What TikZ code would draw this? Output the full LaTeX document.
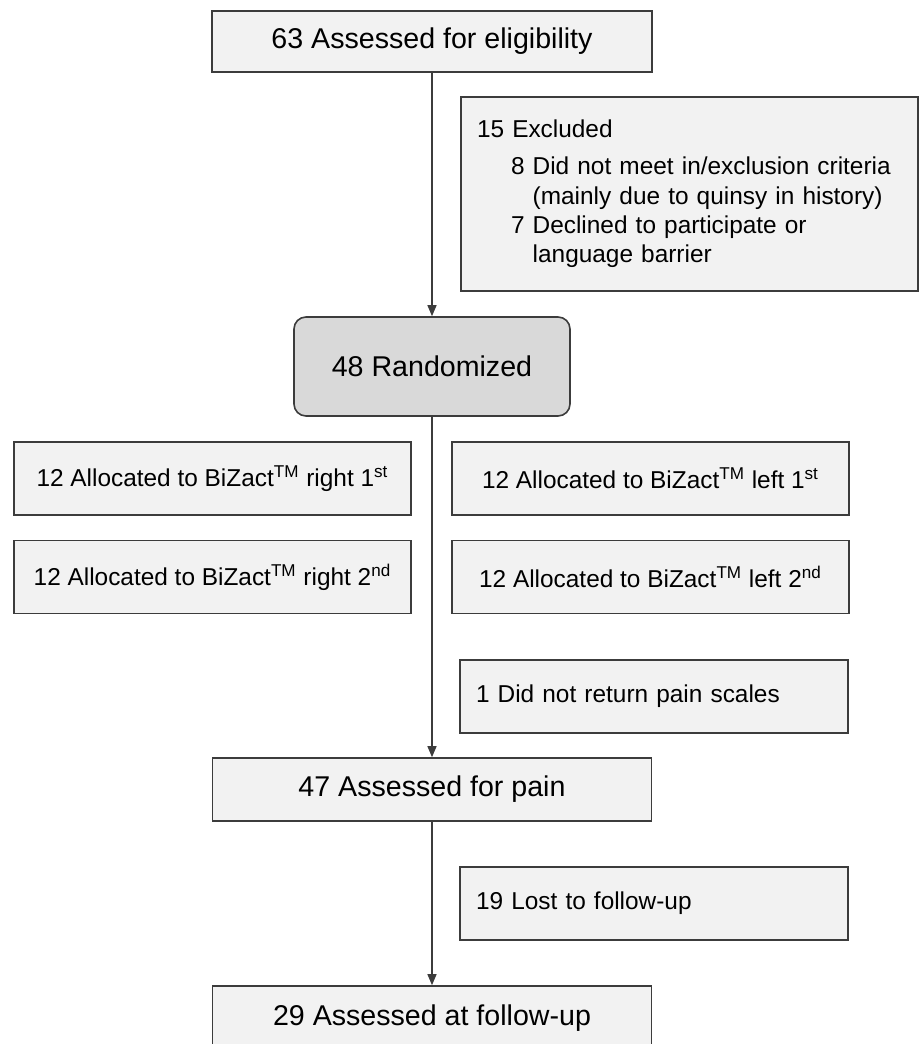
\documentclass[tikz,border=0pt]{standalone}
\usepackage{fontspec}
\setmainfont{Liberation Sans}
\usetikzlibrary{arrows.meta,positioning}
\definecolor{boxfill}{HTML}{F2F2F2}
\definecolor{randfill}{HTML}{D9D9D9}
\definecolor{edgegray}{HTML}{3C3C3C}
\tikzset{
  mainbox/.style={draw=edgegray, line width=0.8pt, fill=boxfill, inner sep=0pt, align=center, font=\fontsize{14.3}{17}\selectfont},
  allocbox/.style={draw=edgegray, line width=0.8pt, fill=boxfill, inner sep=0pt, align=center, minimum width=198.5pt, minimum height=36.5pt, font=\fontsize{12.2}{14.7}\selectfont},
  sidebox/.style={draw=edgegray, line width=0.8pt, fill=boxfill, inner xsep=8pt, inner ysep=0pt, align=left, font=\fontsize{12.2}{14.7}\selectfont},
  line/.style={-{Triangle[width=4.5pt,length=5.5pt]}, edgegray, line width=0.6pt}
}
\begin{document}
\begin{tikzpicture}[x=0.5pt,y=-0.5pt]
  \useasboundingbox (0,0) rectangle (920,1044);
  % main column
  \node[mainbox, minimum width=220pt, minimum height=30.5pt] (assess) at (432,41.5) {63 Assessed for eligibility};
  \node[mainbox, fill=randfill, rounded corners=6pt, minimum width=138pt, minimum height=49.5pt] (rand) at (432,366.5) {48 Randomized};
  \node[mainbox, minimum width=219.5pt, minimum height=31.5pt] (pain) at (432,789.5) {47 Assessed for pain};
  \node[mainbox, minimum width=219.5pt, minimum height=32pt] (fup) at (432,1018) {29 Assessed at follow-up};
  % exclusions and losses
  \node[sidebox, text width=212.5pt, minimum height=97pt] (excl) at (689.5,194) {15 Excluded\\[3.8pt]
    \hspace*{17pt}8 Did not meet in/exclusion criteria\\
    \hspace*{17pt}\hphantom{8\ }(mainly due to quinsy in history)\\
    \hspace*{17pt}7 Declined to participate or\\
    \hspace*{17pt}\hphantom{7\ }language barrier};
  \node[sidebox, text width=178pt, minimum height=36.5pt] (noret) at (654,696.5) {1 Did not return pain scales};
  \node[sidebox, text width=178pt, minimum height=36.5pt] (lost) at (654,903.5) {19 Lost to follow-up};
  % allocation
  \node[allocbox] (right1) at (212.5,478.5) {12 Allocated to BiZact\textsuperscript{TM} right 1\textsuperscript{st}};
  \node[allocbox] (left1) at (650.5,478.5) {12 Allocated to BiZact\textsuperscript{TM} left 1\textsuperscript{st}};
  \node[allocbox] (right2) at (212.5,577) {12 Allocated to BiZact\textsuperscript{TM} right 2\textsuperscript{nd}};
  \node[allocbox] (left2) at (650.5,577) {12 Allocated to BiZact\textsuperscript{TM} left 2\textsuperscript{nd}};
  % flow
  \draw[line] (assess) -- (rand);
  \draw[line] (rand) -- (pain);
  \draw[line] (pain) -- (fup);
\end{tikzpicture}
\end{document}
